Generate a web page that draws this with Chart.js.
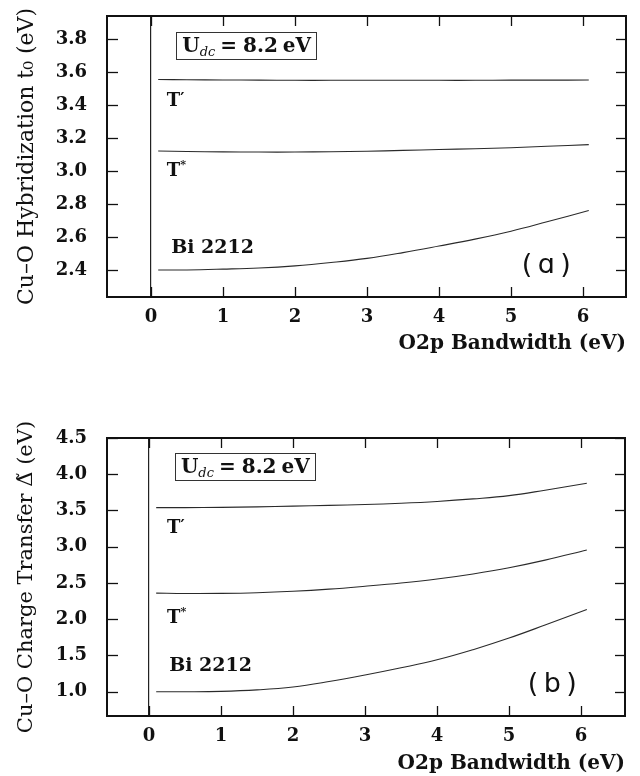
<!DOCTYPE html>
<html>
<head>
<meta charset="utf-8">
<script src="https://cdn.jsdelivr.net/npm/chart.js@4/dist/chart.umd.min.js"></script>
<style>
  html, body { margin: 0; padding: 0; background: #ffffff; }
  canvas { position: absolute; left: 0; }
</style>
</head>
<body>
<canvas id="chartA" width="640" height="388" style="top:0px"></canvas>
<canvas id="chartB" width="640" height="388" style="top:388px"></canvas>
<script>
// ---------- data ----------
const bandwidth = [0.1, 0.5, 1, 1.5, 2, 2.5, 3, 3.5, 4, 4.5, 5, 5.5, 6.08];

// panel (a): Cu-O hybridization t0 (eV)
const hybTPrime = [3.555, 3.553, 3.552, 3.551, 3.550, 3.550, 3.550, 3.550, 3.550, 3.550, 3.551, 3.551, 3.552];
const hybTStar  = [3.121, 3.118, 3.116, 3.115, 3.115, 3.117, 3.120, 3.125, 3.130, 3.135, 3.141, 3.150, 3.160];
const hybBi2212 = [2.400, 2.400, 2.405, 2.412, 2.425, 2.445, 2.470, 2.505, 2.545, 2.587, 2.635, 2.692, 2.760];

// panel (b): Cu-O charge transfer (eV)
const ctTPrime = [3.540, 3.540, 3.543, 3.550, 3.560, 3.570, 3.582, 3.600, 3.625, 3.660, 3.705, 3.780, 3.875];
const ctTStar  = [2.360, 2.355, 2.356, 2.365, 2.385, 2.415, 2.455, 2.500, 2.555, 2.625, 2.710, 2.815, 2.955];
const ctBi2212 = [1.000, 1.000, 1.005, 1.025, 1.065, 1.140, 1.230, 1.330, 1.440, 1.580, 1.740, 1.920, 2.135];

// tick labels
const xTickValues  = [0, 1, 2, 3, 4, 5, 6];
const yTickValuesA = [2.4, 2.6, 2.8, 3.0, 3.2, 3.4, 3.6, 3.8];
const yTickValuesB = [1.0, 1.5, 2.0, 2.5, 3.0, 3.5, 4.0, 4.5];

// texts
const xTitle = 'O2p Bandwidth (eV)';
const yTitleA = 'Cu\u2013O Hybridization t\u2080 (eV)';
const yTitleB = 'Cu\u2013O Charge Transfer \u0394\u0303 (eV)';
const seriesNames = ['T\u2032', 'T*', 'Bi 2212'];

// ---------- helpers ----------
const SERIF = "'DejaVu Serif', serif";
const INK = '#111111';

function pts(xs, ys) { return xs.map((v, i) => ({ x: v, y: ys[i] })); }

function ds(label, arr) {
  return {
    label, data: pts(bandwidth, arr),
    borderColor: '#2a2a2a', borderWidth: 1.1,
    pointRadius: 0, tension: 0.4, fill: false
  };
}

function overlayPlugin(ann) {
  return {
    id: 'overlay',
    afterDraw(chart) {
      const { ctx, chartArea: a, scales: { x, y } } = chart;
      ctx.save();
      ctx.strokeStyle = INK;
      ctx.lineWidth = 1.3;
      const line = (x1, y1, x2, y2) => { ctx.beginPath(); ctx.moveTo(x1, y1); ctx.lineTo(x2, y2); ctx.stroke(); };
      x.ticks.forEach(t => {
        const px = Math.round(x.getPixelForValue(t.value)) + 0.5;
        line(px, a.bottom, px, a.bottom - 10);
        line(px, a.top, px, a.top + 10);
      });
      y.ticks.forEach(t => {
        const py = Math.round(y.getPixelForValue(t.value)) + 0.5;
        line(a.left, py, a.left + 11, py);
        line(a.right, py, a.right - 10, py);
      });
      // frame
      ctx.lineWidth = 2;
      ctx.strokeRect(a.left, a.top, a.right - a.left, a.bottom - a.top);

      ctx.fillStyle = INK;
      ctx.textBaseline = 'alphabetic';
      // series labels
      const bold = s => `bold ${s}px ${SERIF}`;
      ann.labels.forEach(l => {
        const px = x.getPixelForValue(l.x), py = y.getPixelForValue(l.y);
        ctx.textAlign = 'left';
        if (l.text === 'T\u2032') {
          ctx.font = bold(18); ctx.fillText('T', px, py);
          const w = ctx.measureText('T').width;
          ctx.font = `bold 16px ${SERIF}`; ctx.fillText('\u2032', px + w, py - 2);
        } else if (l.text === 'T*') {
          ctx.font = bold(18); ctx.fillText('T', px, py);
          const w = ctx.measureText('T').width;
          ctx.font = `bold 11px ${SERIF}`; ctx.fillText('*', px + w, py - 8);
        } else {
          ctx.font = bold(19); ctx.fillText(l.text, px, py);
        }
      });
      // U_dc box
      {
        const bx = x.getPixelForValue(ann.box.x), by = y.getPixelForValue(ann.box.y);
        const parts = [
          { t: 'U', f: bold(20), dy: 0, gap: 0 },
          { t: 'dc', f: `italic 13px ${SERIF}`, dy: 4, gap: 0 },
          { t: '=', f: bold(20), dy: 0, gap: 5 },
          { t: '8.2', f: bold(20), dy: 0, gap: 6 },
          { t: 'eV', f: bold(20), dy: 0, gap: 5 }
        ];
        let cx = bx + 6;
        const base = by + 20;
        parts.forEach(p => {
          cx += p.gap;
          ctx.font = p.f;
          ctx.fillText(p.t, cx, base + p.dy);
          cx += ctx.measureText(p.t).width;
        });
        ctx.lineWidth = 1;
        ctx.strokeStyle = '#333';
        ctx.strokeRect(Math.round(bx) + 0.5, Math.round(by) + 0.5, Math.round(cx + 5 - bx), 27);
      }
      // panel letter
      {
        const px = x.getPixelForValue(ann.panel.x), py = y.getPixelForValue(ann.panel.y);
        ctx.font = "27px 'DejaVu Sans', sans-serif";
        ctx.textAlign = 'center';
        ctx.textBaseline = 'middle';
        ctx.fillText(ann.panel.text, px, py);
      }
      ctx.restore();
    }
  };
}

function makeChart(id, opt) {
  return new Chart(document.getElementById(id), {
    type: 'line',
    data: { datasets: opt.series.map((s, i) => ds(seriesNames[i], s)) },
    options: {
      responsive: false,
      animation: false,
      layout: { padding: opt.padding, autoPadding: false },
      plugins: { legend: { display: false }, tooltip: { enabled: false } },
      scales: {
        x: {
          type: 'linear', min: opt.xMin, max: opt.xMax,
          afterBuildTicks: s => { s.ticks = xTickValues.map(v => ({ value: v })); },
          afterFit: s => { s.height = opt.xAxisHeight; s.paddingLeft = 0; s.paddingRight = 0; },
          grid: {
            drawOnChartArea: true, drawTicks: false,
            color: c => (c.tick && c.tick.value === 0) ? '#222' : 'rgba(0,0,0,0)',
            lineWidth: 1.2
          },
          border: { display: false },
          ticks: {
            color: INK, padding: 10, maxRotation: 0,
            font: { family: SERIF, size: 18, weight: 'bold' },
            callback: v => String(v)
          },
          title: {
            display: true, text: xTitle, align: 'end', color: INK,
            font: { family: SERIF, size: 20, weight: 'bold' },
            padding: { top: 0, bottom: 0 }
          }
        },
        y: {
          type: 'linear', min: opt.yMin, max: opt.yMax,
          afterBuildTicks: s => { s.ticks = opt.yTicks.map(v => ({ value: v })); },
          afterFit: s => { s.width = 107; s.paddingTop = 0; s.paddingBottom = 0; },
          grid: { display: false },
          border: { display: false },
          ticks: {
            color: INK, padding: 12,
            font: { family: SERIF, size: 18, weight: 'bold' },
            callback: v => Number(v).toFixed(1)
          },
          title: {
            display: true, text: opt.yTitle, color: INK,
            font: { family: SERIF, size: opt.yTitleSize, weight: 'normal' },
            padding: { top: 14, bottom: 0 }
          }
        }
      }
    },
    plugins: [overlayPlugin(opt.ann)]
  });
}

makeChart('chartA', {
  series: [hybTPrime, hybTStar, hybBi2212],
  xMin: -0.611, xMax: 6.597, yMin: 2.236, yMax: 3.94,
  yTicks: yTickValuesA, yTitle: yTitleA, yTitleSize: 22,
  padding: { left: 0, top: 16, right: 14, bottom: 32 },
  xAxisHeight: 59,
  ann: {
    labels: [
      { text: seriesNames[0], x: 0.22, y: 3.394 },
      { text: seriesNames[1], x: 0.22, y: 2.970 },
      { text: seriesNames[2], x: 0.28, y: 2.505 }
    ],
    box: { x: 0.35, y: 3.842 },
    panel: { text: '(\u2009\u0251\u2009)', x: 5.49, y: 2.424 }
  }
});

makeChart('chartB', {
  series: [ctTPrime, ctTStar, ctBi2212],
  xMin: -0.583, xMax: 6.61, yMin: 0.665, yMax: 4.5,
  yTicks: yTickValuesB, yTitle: yTitleB, yTitleSize: 21,
  padding: { left: 0, top: 50, right: 15, bottom: 0 },
  xAxisHeight: 60,
  ann: {
    labels: [
      { text: seriesNames[0], x: 0.25, y: 3.186 },
      { text: seriesNames[1], x: 0.25, y: 1.946 },
      { text: seriesNames[2], x: 0.28, y: 1.285 }
    ],
    box: { x: 0.36, y: 4.288 },
    panel: { text: '(\u2009b\u2009)', x: 5.6, y: 1.09 }
  }
});
</script>
</body>
</html>
